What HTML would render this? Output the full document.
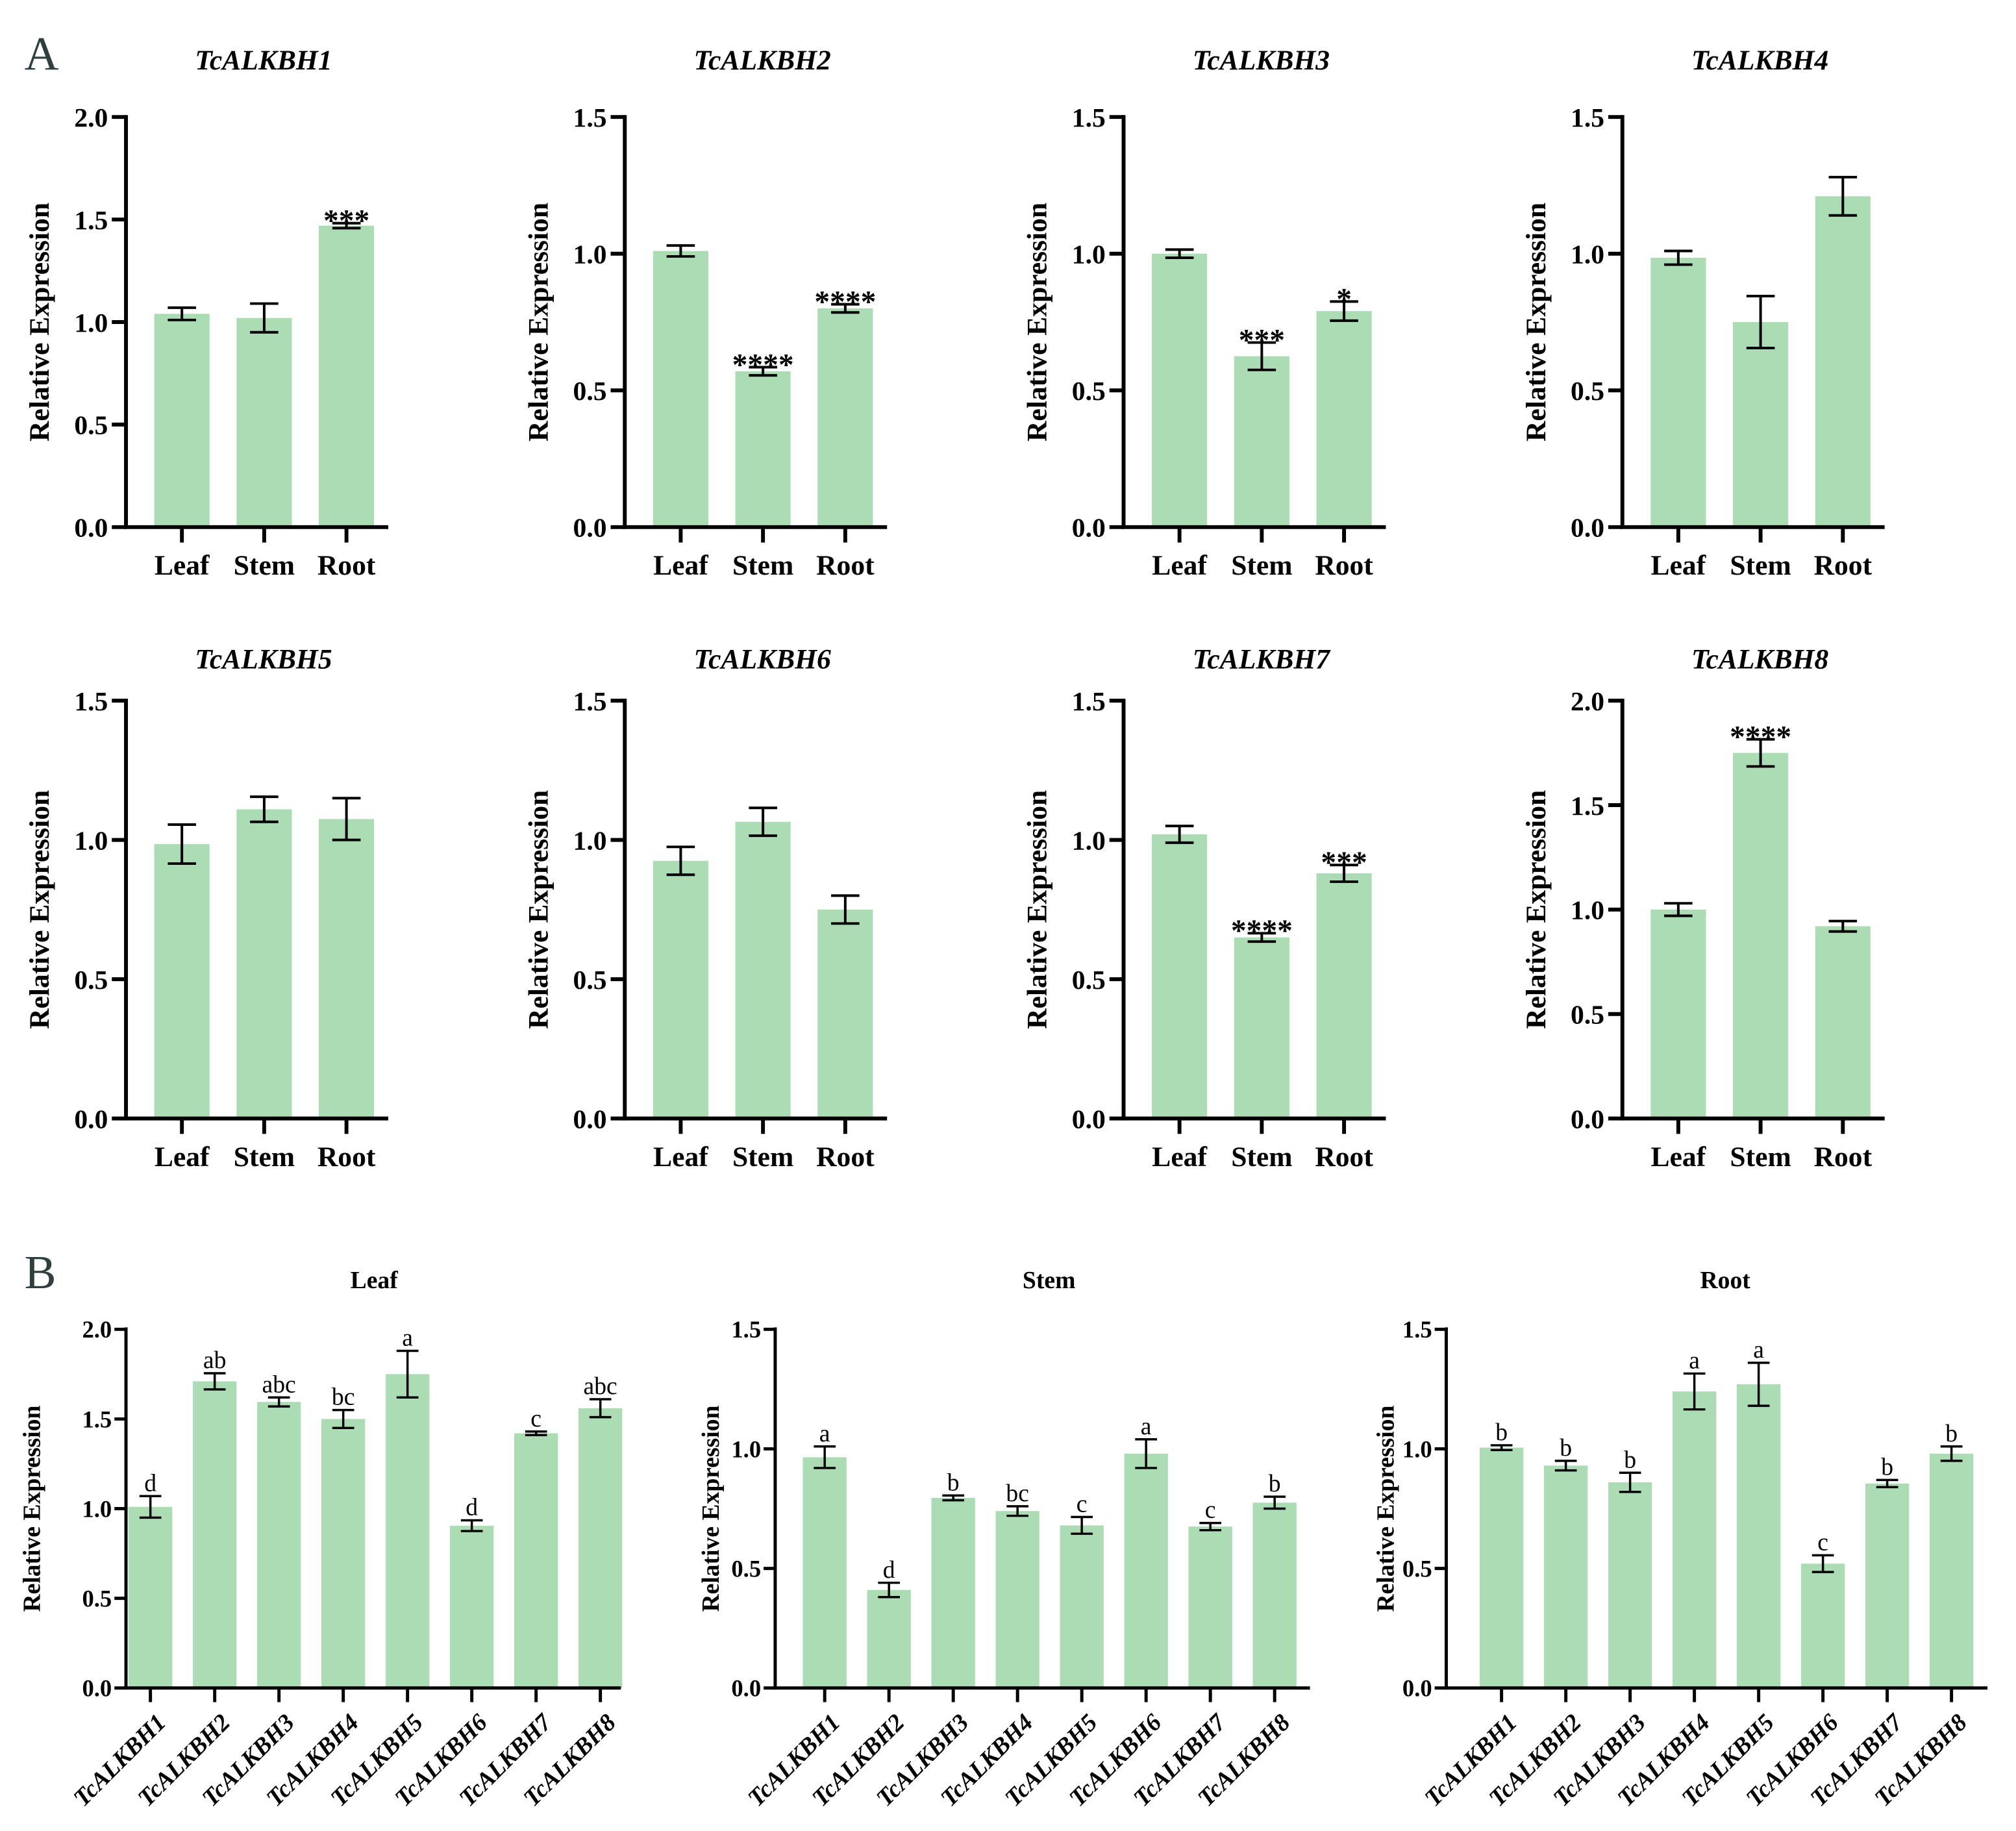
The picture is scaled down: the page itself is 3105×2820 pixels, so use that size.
<!DOCTYPE html>
<html><head><meta charset="utf-8"><style>
html,body{margin:0;padding:0;background:#fff;}
svg{display:block;}
text{font-family:"Liberation Serif",serif;}
</style></head><body>
<svg width="3105" height="2820" viewBox="0 0 3105 2820" xmlns="http://www.w3.org/2000/svg">
<g id="fig" transform="scale(0.99)">
<text x="38" y="108" font-size="74" fill="#2f3e3e">A</text>
<text x="38" y="2004" font-size="74" fill="#2f3e3e">B</text>
</g>
</svg>
<script>
// ---- Panel A data ----
const tissues = ["Leaf","Stem","Root"];
const genes = ["TcALKBH1","TcALKBH2","TcALKBH3","TcALKBH4","TcALKBH5","TcALKBH6","TcALKBH7","TcALKBH8"];
const aMeans = [
  [1.04,1.02,1.47],[1.01,0.57,0.80],[1.00,0.625,0.79],[0.985,0.75,1.21],
  [0.985,1.11,1.075],[0.925,1.065,0.75],[1.02,0.65,0.88],[1.00,1.75,0.92]];
const aErrs = [
  [0.03,0.07,0.012],[0.02,0.015,0.015],[0.015,0.05,0.035],[0.025,0.095,0.07],
  [0.07,0.045,0.075],[0.05,0.05,0.05],[0.03,0.015,0.03],[0.03,0.065,0.025]];
const aSig = [
  ["","","***"],["","****","****"],["","***","*"],["","",""],
  ["","",""],["","",""],["","****","***"],["","****",""]];
const aMax = [2,1.5,1.5,1.5,1.5,1.5,1.5,2];
const aTicks15 = [0,0.5,1.0,1.5];
const aTicks20 = [0,0.5,1.0,1.5,2.0];
// ---- Panel B data ----
const bTitles = ["Leaf","Stem","Root"];
const bMeans = [
  [1.01,1.71,1.595,1.50,1.75,0.905,1.42,1.56],
  [0.965,0.41,0.795,0.74,0.68,0.98,0.675,0.775],
  [1.005,0.93,0.86,1.24,1.27,0.52,0.855,0.98]];
const bErrs = [
  [0.06,0.045,0.025,0.05,0.13,0.03,0.01,0.05],
  [0.045,0.03,0.01,0.02,0.035,0.06,0.015,0.025],
  [0.01,0.02,0.04,0.075,0.09,0.035,0.015,0.03]];
const bLetters = [
  ["d","ab","abc","bc","a","d","c","abc"],
  ["a","d","b","bc","c","a","c","b"],
  ["b","b","b","a","a","c","b","b"]];
const bMax = [2,1.5,1.5];

const NS="http://www.w3.org/2000/svg";
const svg=document.getElementById('fig');
function mk(tag,attrs,parent){const e=document.createElementNS(NS,tag);for(const k in attrs)e.setAttribute(k,attrs[k]);(parent||svg).appendChild(e);return e;}
const BAR="#acdcb4";

// Panel A
const colX=[196,972,1748,2524];
const rowY=[[182,820],[1090,1740]];
const titleY=[108,1040];
genes.forEach((g,i)=>{
  const r_=Math.floor(i/4);
  const ax=colX[i%4], top=rowY[r_][0], bot=rowY[r_][1];
  const max=aMax[i];
  const y=v=>bot-(v/max)*(bot-top);
  const xc=j=>ax+87+j*128;
  const grp=mk('g',{});
  
  
  const t=mk('text',{x:ax+214,y:titleY[r_],'font-size':44,'font-weight':'bold','font-style':'italic','text-anchor':'middle'},grp);
  t.textContent=g;
  
  
  const yl=mk('text',{x:0,y:0,'font-size':44,'font-weight':'bold','text-anchor':'middle',transform:`translate(${ax-120},${(top+bot)/2}) rotate(-90)`},grp);
  yl.textContent="Relative Expression";
  
  
  tissues.forEach((ts,j)=>{
    const v=aMeans[i][j], e=aErrs[i][j];
    const r=mk('rect',{x:xc(j)-43,y:y(v),width:86,height:bot-y(v),fill:BAR},grp);
    
    
    const eb=mk('path',{d:`M${xc(j)-22} ${y(v+e)}H${xc(j)+22}M${xc(j)} ${y(v+e)}V${y(v-e)}M${xc(j)-22} ${y(v-e)}H${xc(j)+22}`,stroke:'#000','stroke-width':4,fill:'none'},grp);
    
    
    if(aSig[i][j]){
      const s=mk('text',{x:xc(j),y:y(v+e)+12,'font-size':48,'font-weight':'bold','text-anchor':'middle'},grp);
      s.textContent=aSig[i][j];
      
      
    }
    mk('line',{x1:xc(j),x2:xc(j),y1:bot,y2:bot+24,stroke:'#000','stroke-width':6},grp);
    const xl=mk('text',{x:xc(j),y:bot+74,'font-size':44,'font-weight':'bold','text-anchor':'middle'},grp);
    xl.textContent=ts;
    
    
  });
  const ticks=max===2?aTicks20:aTicks15;
  ticks.forEach(tv=>{
    mk('line',{x1:ax-22,x2:ax,y1:y(tv),y2:y(tv),stroke:'#000','stroke-width':6},grp);
    const tl=mk('text',{x:ax-28,y:y(tv)+15,'font-size':42,'font-weight':'bold','text-anchor':'end'},grp);
    tl.textContent=tv.toFixed(1);
    
    
  });
  const axl=mk('path',{d:`M${ax} ${top-3}V${bot}H${ax+408}`,stroke:'#000','stroke-width':6,fill:'none'},grp);
  
  
});

// Panel B
const bAx=[196,1206,2250], bFirst=[234,1283,2336], bEnd=[966,2038,3092];
const bYlab=[62,1118,2168];
const bTop=2068, bBot=2626;
bTitles.forEach((bt,k)=>{
  const ax=bAx[k], max=bMax[k];
  const y=v=>bBot-(v/max)*(bBot-bTop);
  const xc=j=>bFirst[k]+j*100;
  const grp=mk('g',{});
  
  
  const t=mk('text',{x:[582,1632,2684][k],y:2004,'font-size':38,'font-weight':'bold','text-anchor':'middle'},grp);
  t.textContent=bt;
  
  
  const yl=mk('text',{x:0,y:0,'font-size':38,'font-weight':'bold','text-anchor':'middle',transform:`translate(${bYlab[k]},${(bTop+bBot)/2}) rotate(-90)`},grp);
  yl.textContent="Relative Expression";
  
  
  genes.forEach((g,j)=>{
    const v=bMeans[k][j], e=bErrs[k][j];
    const r=mk('rect',{x:xc(j)-34,y:y(v),width:68,height:bBot-y(v),fill:BAR},grp);
    
    
    const eb=mk('path',{d:`M${xc(j)-17} ${y(v+e)}H${xc(j)+17}M${xc(j)} ${y(v+e)}V${y(v-e)}M${xc(j)-17} ${y(v-e)}H${xc(j)+17}`,stroke:'#000','stroke-width':3.5,fill:'none'},grp);
    
    
    const s=mk('text',{x:xc(j),y:y(v+e)-8,'font-size':38,'text-anchor':'middle'},grp);
    s.textContent=bLetters[k][j];
    
    
    mk('line',{x1:xc(j),x2:xc(j),y1:bBot,y2:bBot+22,stroke:'#000','stroke-width':5},grp);
    const xl=mk('text',{x:0,y:0,'font-size':38,'font-weight':'bold','font-style':'italic','text-anchor':'end',transform:`translate(${xc(j)+26},${bBot+56}) rotate(-45)`},grp);
    xl.textContent=g;
    
    
  });
  const ticks=max===2?aTicks20:aTicks15;
  ticks.forEach(tv=>{
    mk('line',{x1:ax-18,x2:ax,y1:y(tv),y2:y(tv),stroke:'#000','stroke-width':5},grp);
    const tl=mk('text',{x:ax-22,y:y(tv)+13,'font-size':37,'font-weight':'bold','text-anchor':'end'},grp);
    tl.textContent=tv.toFixed(1);
    
    
  });
  const axl=mk('path',{d:`M${ax} ${bTop-3}V${bBot}H${bEnd[k]}`,stroke:'#000','stroke-width':5,fill:'none'},grp);
  
  
});
</script>
</body></html>
